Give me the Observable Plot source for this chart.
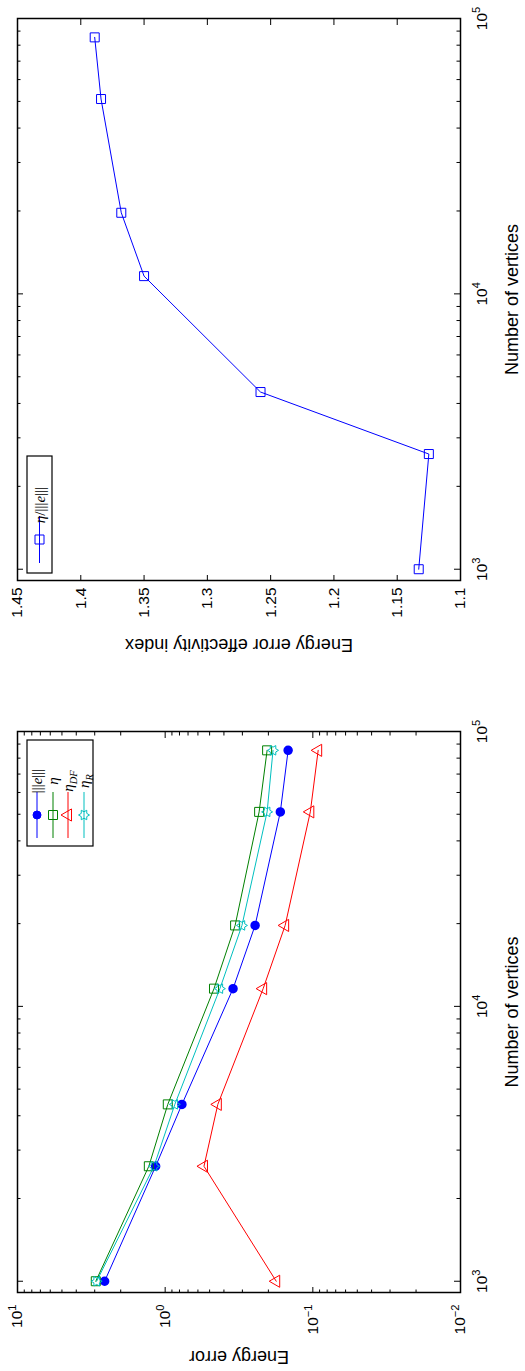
<!DOCTYPE html>
<html><head><meta charset="utf-8">
<script src="https://cdn.jsdelivr.net/npm/d3@7"></script>
<script src="https://cdn.jsdelivr.net/npm/@observablehq/plot@0.6"></script>
<style>
html,body{margin:0;padding:0;background:#fff;width:525px;height:1371px;overflow:hidden;}
#fig{position:absolute;left:0;top:0;width:1371px;height:525px;display:flex;transform-origin:0 0;transform:translate(0,1371px) rotate(-90deg);background:#fff;}
#fig svg{display:block;flex:none;}
</style></head><body><div id="fig"></div>
<script>
// ---- data ----
const vertices  = [1000, 2620, 4400, 11600, 19700, 51000, 85400];
const errEnergy = [2.57, 1.16, 0.77, 0.347, 0.246, 0.166, 0.147]; // |||e|||
const etaEst    = [2.95, 1.29, 0.96, 0.467, 0.336, 0.231, 0.204]; // eta
const etaDF     = [0.177, 0.546, 0.44, 0.217, 0.154, 0.104, 0.092]; // eta_DF
const etaR      = [2.91, 1.19, 0.86, 0.426, 0.302, 0.204, 0.186]; // eta_R
const effIndex  = [1.133, 1.125, 1.258, 1.350, 1.368, 1.384, 1.389]; // eta/|||e|||

const xTicks     = [1e3, 1e4, 1e5];
const yLogTicks  = [1e-2, 1e-1, 1e0, 1e1];
const yEffTicks  = [1.1, 1.15, 1.2, 1.25, 1.3, 1.35, 1.4, 1.45];
const xDomain    = [910, 1e5];
const yLogDomain = [1e-2, 1e1];
const yEffDomain = [1.1, 1.45];
const xLabel = "Number of vertices";
const yLabelLeft = "Energy error";
const yLabelRight = "Energy error effectivity index";

const colors = {blue: "#0000ff", green: "#008000", red: "#ff0000", cyan: "#00bfbf"};
const sansFont = "'Liberation Sans', Arial, Helvetica, sans-serif";
const serifFont = "'Liberation Serif', 'Times New Roman', serif";

const rows = vertices.map((v, i) => ({v, err: errEnergy[i], eta: etaEst[i], df: etaDF[i], r: etaR[i], eff: effIndex[i]}));

// ---- custom MATLAB-like marker symbols (size = r*r*PI) ----
const rad = s => Math.sqrt(s / Math.PI);
const squareSym = {draw(c, s) { const r = rad(s); c.rect(-r, -r, 2 * r, 2 * r); }};
const triSym = {draw(c, s) { const R = rad(s); c.moveTo(0, -R); c.lineTo(R * 0.866, R * 0.5); c.lineTo(-R * 0.866, R * 0.5); c.closePath(); }};
const hexSym = {draw(c, s) {
  const R = rad(s), q = R / Math.sqrt(3);
  for (let k = 0; k < 12; k++) {
    const a = -Math.PI / 2 + k * Math.PI / 6, rr = k % 2 ? q : R;
    const px = rr * Math.cos(a), py = rr * Math.sin(a);
    k ? c.lineTo(px, py) : c.moveTo(px, py);
  }
  c.closePath();
}};

const pow10 = d => "10^" + String(Math.round(Math.log10(d))).replace("-", "\u2212");
const minors = (majors, dom) => majors.flatMap(m => [2,3,4,5,6,7,8,9].map(k => k * m)).filter(v => v > dom[0] && v < dom[1]);

function tickMarks(xMaj, xMin, yMaj, yMin, W, H) {
  const M = 6, m = 3.5, st = {stroke: "black", strokeWidth: 1};
  const out = [];
  const xs = (arr, L) => [Plot.ruleX(arr, {x: d => d, insetTop: H - L, ...st}), Plot.ruleX(arr, {x: d => d, insetBottom: H - L, ...st})];
  const ys = (arr, L) => [Plot.ruleY(arr, {y: d => d, insetRight: W - L, ...st}), Plot.ruleY(arr, {y: d => d, insetLeft: W - L, ...st})];
  out.push(...xs(xMaj, M), ...xs(xMin, m), ...ys(yMaj, M));
  if (yMin.length) out.push(...ys(yMin, m));
  return out;
}

function superscripts(svg) {
  svg.querySelectorAll("text").forEach(t => {
    const m = /^10\^(.+)$/.exec(t.textContent);
    if (!m) return;
    t.textContent = "10";
    const s = document.createElementNS("http://www.w3.org/2000/svg", "tspan");
    s.setAttribute("dy", "-0.55em");
    s.setAttribute("font-size", "0.72em");
    s.textContent = m[1];
    t.appendChild(s);
  });
}

function addLegend(svg, box, items, lineX, markX, textX) {
  const g = d3.select(svg).append("g").attr("aria-label", "legend");
  g.append("rect").attr("x", box[0]).attr("y", box[1]).attr("width", box[2]).attr("height", box[3])
    .attr("fill", "white").attr("stroke", "black").attr("stroke-width", 1.2);
  for (const it of items) {
    g.append("line").attr("x1", lineX[0]).attr("x2", lineX[1]).attr("y1", it.y).attr("y2", it.y)
      .attr("stroke", it.color).attr("stroke-width", 1);
    g.append("path").attr("d", d3.symbol(it.symbol, it.r * it.r * Math.PI)())
      .attr("transform", `translate(${markX},${it.y})`)
      .attr("fill", it.fill).attr("stroke", it.color).attr("stroke-width", 1);
    const t = g.append("text").attr("x", textX).attr("y", it.y).attr("dy", "0.35em")
      .attr("font-family", serifFont).attr("font-size", 15).attr("fill", "black");
    for (const [s, kind] of it.label) {
      const ts = t.append("tspan").text(s);
      if (kind === "i") ts.attr("font-style", "italic");
      if (kind === "sub") ts.attr("font-style", "italic").attr("font-size", 10.5).attr("dy", "0.35em");
    }
  }
}

const H = 525 - 17 - 65;

// ---- left chart: energy errors ----
const W1 = 700 - 78 - 61;
const left = Plot.plot({
  width: 700, height: 525, marginLeft: 78, marginRight: 61, marginTop: 17, marginBottom: 65,
  style: {fontFamily: sansFont, fontSize: "15.5px", background: "white", color: "black"},
  x: {type: "log", domain: xDomain, ticks: xTicks, tickFormat: pow10, tickSize: 0, tickPadding: 15, label: null},
  y: {type: "log", domain: yLogDomain, ticks: yLogTicks, tickFormat: pow10, tickSize: 0, tickPadding: 12, label: null},
  marks: [
    ...tickMarks(xTicks, minors([1e3, 1e4], xDomain), yLogTicks, minors([1e-2, 1e-1, 1e0], yLogDomain), W1, H),
    Plot.line(rows, {x: "v", y: "err", stroke: colors.blue, strokeWidth: 1}),
    Plot.line(rows, {x: "v", y: "eta", stroke: colors.green, strokeWidth: 1}),
    Plot.line(rows, {x: "v", y: "df", stroke: colors.red, strokeWidth: 1}),
    Plot.line(rows, {x: "v", y: "r", stroke: colors.cyan, strokeWidth: 1}),
    Plot.dot(rows, {x: "v", y: "err", r: 4, symbol: "circle", fill: colors.blue, stroke: colors.blue}),
    Plot.dot(rows, {x: "v", y: "eta", r: 4.5, symbol: squareSym, fill: "none", stroke: colors.green, strokeWidth: 1}),
    Plot.dot(rows, {x: "v", y: "df", r: 7, symbol: triSym, fill: "none", stroke: colors.red, strokeWidth: 1}),
    Plot.dot(rows, {x: "v", y: "r", r: 5.5, symbol: hexSym, fill: "none", stroke: colors.cyan, strokeWidth: 1}),
    Plot.text([xLabel], {frameAnchor: "bottom", dy: 52, text: d => d, fontSize: 18, textAnchor: "middle", lineAnchor: "middle", fill: "black"}),
    Plot.text([yLabelLeft], {frameAnchor: "left", dx: -64, rotate: -90, text: d => d, fontSize: 18, textAnchor: "middle", lineAnchor: "middle", fill: "black"}),
    Plot.frame({stroke: "black", strokeWidth: 1.5})
  ]
});
superscripts(left);
addLegend(left, [525, 27, 106, 66], [
  {y: 37, color: colors.blue, fill: colors.blue, symbol: d3.symbolCircle, r: 4, label: [["|||", "n"], ["e", "i"], ["|||", "n"]]},
  {y: 53, color: colors.green, fill: "none", symbol: squareSym, r: 4.5, label: [["\u03b7", "i"]]},
  {y: 68, color: colors.red, fill: "none", symbol: triSym, r: 7, label: [["\u03b7", "i"], ["DF", "sub"]]},
  {y: 84, color: colors.cyan, fill: "none", symbol: hexSym, r: 5.5, label: [["\u03b7", "i"], ["R", "sub"]]}
], [533, 579], 556, 590);

// ---- right chart: effectivity index ----
const W2 = 671 - 90 - 19;
const right = Plot.plot({
  width: 671, height: 525, marginLeft: 90, marginRight: 19, marginTop: 17, marginBottom: 65,
  style: {fontFamily: sansFont, fontSize: "15.5px", background: "white", color: "black"},
  x: {type: "log", domain: xDomain, ticks: xTicks, tickFormat: pow10, tickSize: 0, tickPadding: 15, label: null},
  y: {type: "linear", domain: yEffDomain, ticks: yEffTicks, tickFormat: d => d.toFixed(2).replace(/0$/, ""), tickSize: 0, tickPadding: 7, label: null},
  marks: [
    ...tickMarks(xTicks, minors([1e3, 1e4], xDomain), yEffTicks, [], W2, H),
    Plot.line(rows, {x: "v", y: "eff", stroke: colors.blue, strokeWidth: 1}),
    Plot.dot(rows, {x: "v", y: "eff", r: 4.5, symbol: squareSym, fill: "none", stroke: colors.blue, strokeWidth: 1}),
    Plot.text([xLabel], {frameAnchor: "bottom", dy: 52, text: d => d, fontSize: 18, textAnchor: "middle", lineAnchor: "middle", fill: "black"}),
    Plot.text([yLabelRight], {frameAnchor: "left", dx: -64, rotate: -90, text: d => d, fontSize: 18, textAnchor: "middle", lineAnchor: "middle", fill: "black"}),
    Plot.frame({stroke: "black", strokeWidth: 1.5})
  ]
});
superscripts(right);
addLegend(right, [98, 27, 117, 25], [
  {y: 39.5, color: colors.blue, fill: "none", symbol: squareSym, r: 4.5,
   label: [["\u03b7", "i"], ["/", "n"], ["|||", "n"], ["e", "i"], ["|||", "n"]]}
], [108, 155], 131.5, 166);

const fig = document.getElementById("fig");
fig.appendChild(left);
fig.appendChild(right);
</script>
</body></html>
